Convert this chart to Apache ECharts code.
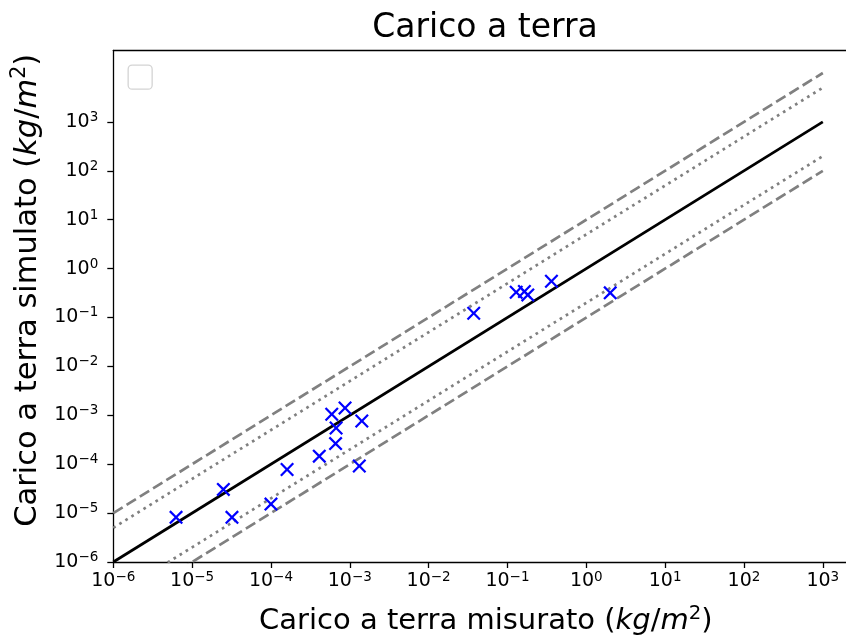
<!DOCTYPE html>
<html>
<head>
<meta charset="utf-8">
<script src="https://cdn.jsdelivr.net/npm/echarts@6/dist/echarts.min.js"></script>
<style>html,body{margin:0;padding:0;background:#fff;}#c{width:846px;height:636px;}</style>
</head>
<body>
<div id="c"></div>
<script>
// Measured vs simulated ground load (kg/m^2)
const xMeasured = [6.25e-6, 2.49e-5, 3.2e-5, 1.0e-4, 1.6e-4, 4.1e-4, 6.6e-4, 6.7e-4, 5.9e-4, 8.7e-4, 1.42e-3, 1.32e-3, 3.73e-2, 0.129, 0.164, 0.181, 0.361, 2.01];
const ySimulated = [8.2e-6, 3.05e-5, 8.2e-6, 1.53e-5, 7.8e-5, 1.46e-4, 2.64e-4, 5.5e-4, 1.05e-3, 1.41e-3, 7.66e-4, 9.2e-5, 0.122, 0.328, 0.34, 0.29, 0.55, 0.319];
// reference lines y = k * x
const refX = [1e-6, 1e3];
const factorDashed = [10, 0.1];
const factorDotted = [5, 0.2];
const factorIdentity = 1;
// tick labels
const tickValues = [1e-6, 1e-5, 1e-4, 1e-3, 1e-2, 1e-1, 1e0, 1e1, 1e2, 1e3];
const xMin = 1e-6, xMax = Math.pow(10, 3.45);
const yMin = 1e-6, yMax = Math.pow(10, 4.46);

const FONT = 'DejaVu Sans';
function fmt(v) {
  const e = Math.round(Math.log10(v));
  return '{b|10}{s|' + (e < 0 ? '\u2212' + (-e) : String(e)) + '}';
}
const tickRich = {
  b: { fontSize: 19, fontFamily: FONT, color: '#000', lineHeight: 23 },
  s: { fontSize: 13.5, fontFamily: FONT, color: '#000', lineHeight: 13.5, verticalAlign: 'top' }
};
function nameRich(fs) {
  return {
    n: { fontSize: fs, fontFamily: FONT, color: '#000', lineHeight: fs * 1.2 },
    i: { fontSize: fs, fontFamily: FONT, fontStyle: 'italic', color: '#000', lineHeight: fs * 1.2 },
    s: { fontSize: fs * 0.68, fontFamily: FONT, color: '#000', lineHeight: fs * 0.68, verticalAlign: 'top' }
  };
}

function lineData(k) { return refX.map(x => [x, x * k]); }
const scatterData = xMeasured.map((x, i) => [x, ySimulated[i]]);

const xPath = 'path://M0,11.3L11.3,0L50,38.7L88.7,0L100,11.3L61.3,50L100,88.7L88.7,100L50,61.3L11.3,100L0,88.7L38.7,50Z';

const chart = echarts.init(document.getElementById('c'), null, { renderer: 'canvas' });
chart.setOption({
  animation: false,
  backgroundColor: '#fff',
  title: {
    text: 'Carico a terra',
    left: 480, top: 7, textAlign: 'center',
    textStyle: { fontFamily: FONT, fontSize: 33, fontWeight: 'normal', color: '#000' }
  },
  grid: {
    left: 113.3, top: 50.5, width: 745, height: 511.5, show: false,
    outerBoundsMode: 'none', containLabel: false
  },
  graphic: [{
    type: 'rect', left: 127.5, top: 64.5, z: 100,
    shape: { width: 24, height: 24, r: 4 },
    style: { fill: '#fff', stroke: '#d4d4d4', lineWidth: 1.3 }
  }],
  xAxis: [{
    type: 'log', logBase: 10, min: xMin, max: xMax,
    name: '{n|Carico a terra misurato (}{i|kg}{n|/}{i|m}{s|2}{n|)}',
    nameLocation: 'middle', nameGap: 42,
    nameTextStyle: { rich: nameRich(29), fontSize: 29, fontFamily: FONT, color: '#000' },
    axisLine: { lineStyle: { color: '#000', width: 1.3 } },
    axisTick: { show: true, inside: false, length: 6, lineStyle: { color: '#000', width: 1.3 }, customValues: tickValues },
    axisLabel: { margin: 8, formatter: fmt, rich: tickRich, customValues: tickValues },
    splitLine: { show: false },
    minorTick: { show: false }
  }, {
    type: 'log', logBase: 10, min: xMin, max: xMax, position: 'top',
    axisLine: { show: true, lineStyle: { color: '#000', width: 1.3 } },
    axisTick: { show: false }, axisLabel: { show: false }, splitLine: { show: false }
  }],
  yAxis: {
    type: 'log', logBase: 10, min: yMin, max: yMax,
    name: '{n|Carico a terra simulato (}{i|kg}{n|/}{i|m}{s|2}{n|)}',
    nameLocation: 'middle', nameGap: 57, nameRotate: 90,
    nameTextStyle: { rich: nameRich(30.5), fontSize: 30.5, fontFamily: FONT, color: '#000', padding: [0, 0, 0, 32] },
    axisLine: { lineStyle: { color: '#000', width: 1.3 } },
    axisTick: { show: true, inside: false, length: 6, lineStyle: { color: '#000', width: 1.3 }, customValues: tickValues },
    axisLabel: { margin: 15, formatter: fmt, rich: tickRich, customValues: tickValues },
    splitLine: { show: false },
    minorTick: { show: false }
  },
  series: [
    { type: 'line', data: lineData(factorDashed[0]), symbol: 'none', lineStyle: { color: '#808080', width: 2.7, type: [11, 4.6] }, silent: true },
    { type: 'line', data: lineData(factorDotted[0]), symbol: 'none', lineStyle: { color: '#808080', width: 2.7, type: [2.7, 4.4] }, silent: true },
    { type: 'line', data: lineData(factorDotted[1]), symbol: 'none', lineStyle: { color: '#808080', width: 2.7, type: [2.7, 4.4] }, silent: true },
    { type: 'line', data: lineData(factorDashed[1]), symbol: 'none', lineStyle: { color: '#808080', width: 2.7, type: [11, 4.6] }, silent: true },
    { type: 'line', data: lineData(factorIdentity), symbol: 'none', lineStyle: { color: '#000', width: 2.7 }, silent: true },
    { type: 'scatter', data: scatterData, symbol: xPath, symbolSize: 14, itemStyle: { color: '#0000ff', opacity: 1 }, z: 10 }
  ]
});
</script>
</body>
</html>
